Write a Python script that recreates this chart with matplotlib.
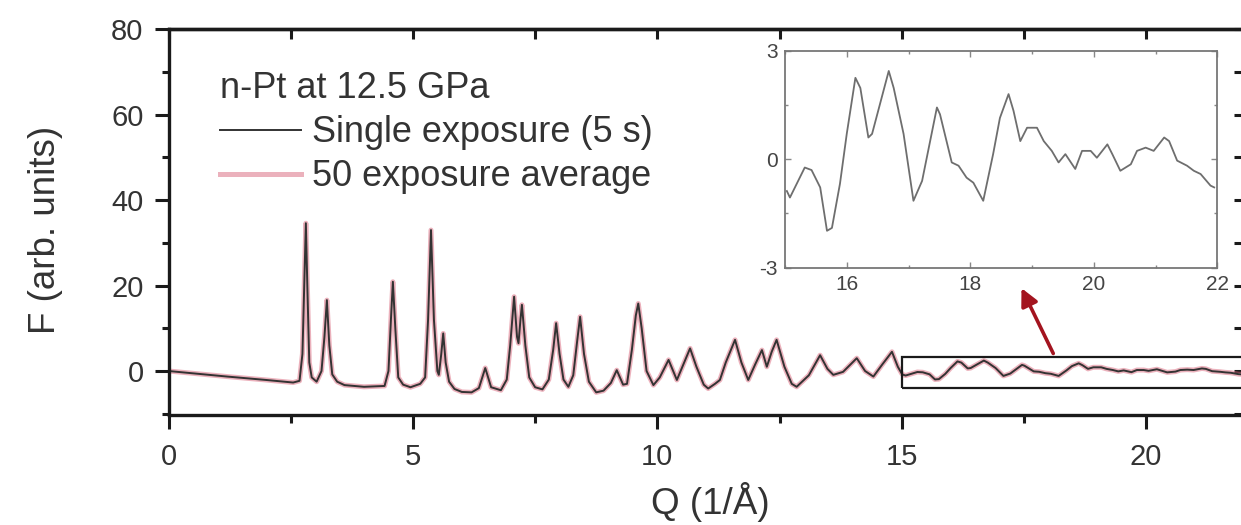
import numpy as np
import matplotlib
matplotlib.use("Agg")
import matplotlib.pyplot as plt
from matplotlib.patches import Rectangle
from matplotlib.ticker import MultipleLocator

plt.rcParams["font.family"] = ["Liberation Sans", "DejaVu Sans"]
plt.rcParams["axes.unicode_minus"] = False

TEXT = "#333333"

# F(Q) of nano-Pt at 12.5 GPa, Q < 15 1/A
Q_LOW = [0.0, 1.2, 2.0, 2.55, 2.68, 2.74, 2.78, 2.81, 2.84, 2.88, 2.93, 3.03,
         3.13, 3.19, 3.24, 3.29, 3.35, 3.45, 3.6, 4.0, 4.42, 4.5, 4.55, 4.59,
         4.64, 4.7, 4.8, 4.95, 5.15, 5.25, 5.31, 5.37, 5.43, 5.5, 5.53, 5.58,
         5.62, 5.67, 5.74, 5.85, 6.0, 6.2, 6.35, 6.48, 6.6, 6.8, 6.92, 6.99,
         7.07, 7.13, 7.16, 7.2, 7.23, 7.3, 7.38, 7.5, 7.65, 7.78, 7.87, 7.93,
         8.0, 8.08, 8.18, 8.28, 8.36, 8.42, 8.5, 8.6, 8.75, 8.9, 9.05, 9.17,
         9.3, 9.38, 9.48, 9.56, 9.61, 9.68, 9.78, 9.92, 10.05, 10.23, 10.4,
         10.55, 10.67, 10.8, 10.95, 11.04, 11.18, 11.28, 11.4, 11.59, 11.72,
         11.86, 12.0, 12.14, 12.24, 12.34, 12.44, 12.6, 12.75, 12.85, 13.1,
         13.33, 13.48, 13.6, 13.8, 14.08, 14.25, 14.42, 14.6, 14.8, 14.92, 15.0]
F_LOW = [0.0, -1.3, -2.1, -2.7, -2.3, 4.0, 22.0, 34.6, 20.0, 2.0, -1.5, -2.5,
         0.0, 8.0, 16.6, 6.0, -0.8, -2.5, -3.3, -3.7, -3.5, 0.0, 12.0, 20.9,
         10.0, -1.5, -3.2, -3.8, -3.0, -1.5, 12.0, 33.0, 12.0, 0.0, -0.9, 4.0,
         8.8, 2.0, -2.5, -4.2, -4.9, -5.0, -4.0, 0.7, -3.8, -4.5, -2.0, 6.0,
         17.4, 8.0, 6.5, 12.0, 15.5, 6.0, -1.5, -3.8, -4.3, -2.0, 5.0, 11.2,
         4.0, -2.0, -3.7, -1.0, 7.0, 12.7, 4.0, -2.5, -5.0, -4.6, -2.8, 0.2,
         -3.2, -3.0, 5.0, 13.0, 15.8, 10.0, 0.0, -3.3, -1.5, 2.6, -2.1,
         2.0, 5.3, 1.0, -3.2, -4.1, -3.0, -2.1, 2.0, 7.3, 2.0,
         -2.1, 1.5, 4.9, 1.0, 4.5, 7.3, 1.0, -3.0, -3.7, -1.0,
         3.7, 0.5, -0.9, -0.2, 3.0, 0.0, -1.3, 1.5, 4.5, 1.0, -0.6]

# high-Q tail, 15-22 1/A (shown magnified in the inset)
Q_TAIL = [15.03, 15.08, 15.32, 15.43, 15.57, 15.68, 15.76, 15.89, 16.0, 16.14,
          16.22, 16.35, 16.41, 16.68, 16.76, 16.92, 17.08, 17.22, 17.46, 17.51,
          17.7, 17.81, 17.94, 18.05, 18.21, 18.37, 18.48, 18.62, 18.7, 18.81,
          18.92, 19.08, 19.19, 19.32, 19.43, 19.54, 19.7, 19.81, 19.95, 20.05,
          20.22, 20.3, 20.43, 20.6, 20.7, 20.84, 20.97, 21.14, 21.22, 21.35,
          21.51, 21.62, 21.73, 21.89, 21.95]
F_TAIL = [-0.88, -1.06, -0.23, -0.3, -0.78, -1.98, -1.9, -0.68, 0.7, 2.25,
          1.97, 0.6, 0.7, 2.44, 1.97, 0.7, -1.15, -0.6, 1.43, 1.24,
          -0.09, -0.18, -0.51, -0.65, -1.15, 0.14, 1.14, 1.8, 1.34, 0.5,
          0.87, 0.87, 0.5, 0.23, -0.09, 0.14, -0.27, 0.23, 0.23, 0.04,
          0.41, 0.14, -0.32, -0.14, 0.23, 0.32, 0.23, 0.6, 0.5, -0.04,
          -0.18, -0.32, -0.41, -0.73, -0.78]

q_single = np.array(Q_LOW + Q_TAIL)
f_single = np.array(F_LOW + F_TAIL)
# the 50-exposure average lies on top of the single exposure at this scale
f_average = f_single.copy()

ZOOM_Q = (15.0, 22.0)
ZOOM_F = (-3.9, 3.2)

fig = plt.figure(figsize=(12.41, 5.25), dpi=100)
ax = fig.add_axes([0.13578, 0.20952, 0.86656, 0.73467])

ax.plot(q_single, f_average, color="#d9657a", lw=3.6, alpha=0.5,
        solid_joinstyle="round", label="50 exposure average")
ax.plot(q_single, f_single, color="#333333", lw=1.4,
        solid_joinstyle="round", label="Single exposure (5 s)")

ax.set_xlim(0, 22)
ax.set_ylim(-10.3, 80)
ax.xaxis.set_major_locator(MultipleLocator(5))
ax.xaxis.set_minor_locator(MultipleLocator(2.5))
ax.yaxis.set_major_locator(MultipleLocator(20))
ax.yaxis.set_minor_locator(MultipleLocator(10))
ax.tick_params(which="both", direction="out", width=2.2, color="#1a1a1a",
               labelsize=21, labelcolor=TEXT)
ax.tick_params(axis="x", which="major", length=10, pad=10)
ax.tick_params(axis="x", which="minor", length=6)
ax.tick_params(axis="y", which="major", length=10, pad=8)
ax.tick_params(axis="y", which="minor", length=5)
for sp in ax.spines.values():
    sp.set_linewidth(2.4)
    sp.set_color("#1a1a1a")

# mirrored ticks on top and right point inward
top = ax.secondary_xaxis("top")
top.xaxis.set_major_locator(MultipleLocator(5))
top.xaxis.set_minor_locator(MultipleLocator(2.5))
top.tick_params(which="both", direction="in", width=2.2, color="#1a1a1a",
                labeltop=False, length=7)
top.spines["top"].set_linewidth(2.4)
right = ax.secondary_yaxis("right")
right.yaxis.set_major_locator(MultipleLocator(20))
right.yaxis.set_minor_locator(MultipleLocator(10))
right.tick_params(which="both", direction="in", width=2.2, color="#1a1a1a",
                  labelright=False, length=7)

ax.set_xlabel("Q (1/Å)", fontsize=26.5, color=TEXT)
ax.set_ylabel("F (arb. units)", fontsize=26.5, color=TEXT)
ax.xaxis.label.set_verticalalignment("center")
ax.xaxis.set_label_coords(0.5035, -0.2256)
ax.yaxis.label.set_verticalalignment("center")
ax.yaxis.set_label_coords(-0.1148, 0.48)

handles, labels = ax.get_legend_handles_labels()
leg = ax.legend(handles[::-1], labels[::-1], title="n-Pt at 12.5 GPa",
                loc="upper left", bbox_to_anchor=(0.1773, 0.864),
                bbox_transform=fig.transFigure, frameon=False, fontsize=26,
                title_fontsize=26, handlelength=2.25, handletextpad=0.3,
                labelspacing=0.25, borderpad=0, borderaxespad=0,
                alignment="left")
for t in leg.get_texts():
    t.set_color(TEXT)
leg.get_title().set_color(TEXT)

# box marking the magnified region
ax.add_patch(Rectangle((ZOOM_Q[0], ZOOM_F[0]), ZOOM_Q[1] - ZOOM_Q[0],
                       ZOOM_F[1] - ZOOM_F[0], fill=False, lw=1.6,
                       edgecolor="#1a1a1a", zorder=4))
ax.annotate("", xy=(17.45, 19.4), xytext=(18.1, 4.1),
            arrowprops=dict(arrowstyle="-|>", color="#a3141f", lw=2.6,
                            mutation_scale=26, shrinkA=0, shrinkB=0),
            zorder=5)

# inset: magnified high-Q tail
ins = fig.add_axes([0.63255, 0.4901, 0.34835, 0.41333])
ins.plot(Q_TAIL, F_TAIL, color="#6e6e6e", lw=1.3)
ins.set_xlim(*ZOOM_Q)
ins.set_ylim(-3, 3)
ins.xaxis.set_major_locator(MultipleLocator(2))
ins.xaxis.set_minor_locator(MultipleLocator(1))
ins.yaxis.set_major_locator(MultipleLocator(3))
ins.yaxis.set_minor_locator(MultipleLocator(1.5))
ins.tick_params(which="both", direction="in", top=True, right=True,
                width=1.0, color="#888888", labelsize=15, labelcolor="#444444")
ins.tick_params(which="major", length=4, pad=5)
ins.tick_params(which="minor", length=2.5)
for sp in ins.spines.values():
    sp.set_linewidth(1.3)
    sp.set_color("#777777")

fig.savefig("out.png", dpi=100)
